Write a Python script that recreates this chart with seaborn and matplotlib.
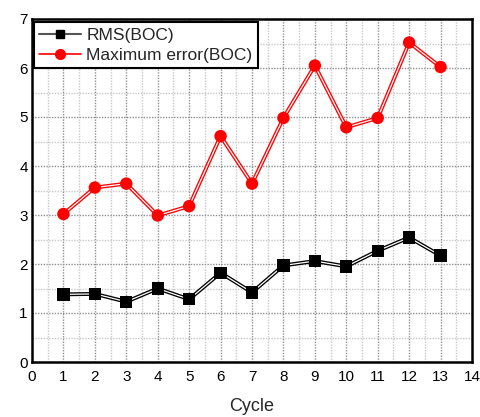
import matplotlib
matplotlib.use("Agg")
import matplotlib.pyplot as plt
import matplotlib.patheffects as pe
import seaborn as sns
import pandas as pd
import numpy as np

cycles = [1, 2, 3, 4, 5, 6, 7, 8, 9, 10, 11, 12, 13]
rms_boc = [1.38, 1.39, 1.23, 1.50, 1.28, 1.82, 1.42, 1.97, 2.06, 1.95, 2.27, 2.54, 2.17]
max_err_boc = [3.02, 3.56, 3.64, 2.99, 3.18, 4.61, 3.64, 4.98, 6.05, 4.79, 4.98, 6.52, 6.02]
x_ticks = list(range(0, 15))
y_ticks = list(range(0, 8))

sns.set_theme(style="white")
plt.rcParams['font.family'] = ['Liberation Sans', 'DejaVu Sans']

df = pd.DataFrame({"Cycle": cycles * 2,
                   "value": rms_boc + max_err_boc,
                   "series": ["RMS(BOC)"] * len(cycles) + ["Maximum error(BOC)"] * len(cycles)})
palette = {"RMS(BOC)": "black", "Maximum error(BOC)": "red"}

fig = plt.figure(figsize=(4.81, 4.17), dpi=100)
ax = fig.add_axes([32/481, 1 - 362/417, 440/481, 343/417])

# grid
for v in np.arange(0.5, 14, 1.0):
    ax.axvline(v, color="#c8c8c8", lw=1.0, ls=(0, (1, 1)), zorder=0)
for v in np.arange(0.5, 7, 1.0):
    ax.axhline(v, color="#c8c8c8", lw=1.0, ls=(0, (1, 1)), zorder=0)
for v in range(1, 14):
    ax.axvline(v, color="#909090", lw=1.0, ls=(0, (1, 1)), zorder=0)
for v in range(1, 7):
    ax.axhline(v, color="#909090", lw=1.0, ls=(0, (1, 1)), zorder=0)

# lines (doubled look)
n0 = len(ax.get_lines())
sns.lineplot(data=df, x="Cycle", y="value", hue="series", palette=palette,
             lw=2.6, ax=ax, legend=False)
for l in ax.get_lines()[n0:]:
    l.set_path_effects([pe.Stroke(linewidth=2.8, foreground=l.get_color()),
                        pe.Stroke(linewidth=0.9, foreground="white")])
# solid markers
sns.scatterplot(data=df, x="Cycle", y="value", hue="series", style="series",
                palette=palette, markers={"RMS(BOC)": "s", "Maximum error(BOC)": "o"},
                s=80, linewidth=0, ax=ax, legend=False, zorder=5)

ax.set_xlim(0, 14)
ax.set_ylim(0, 7)
ax.set_xticks(x_ticks)
ax.set_yticks(y_ticks)
ax.set_xticks(np.arange(0.5, 14, 1.0), minor=True)
ax.set_yticks(np.arange(0.5, 7, 1.0), minor=True)
ax.tick_params(which="major", direction="in", length=5, width=1.3, labelsize=11, pad=6, colors="black")
ax.tick_params(which="minor", direction="in", length=3, width=1.0)
ax.tick_params(axis="y", pad=3)
for s in ax.spines.values():
    s.set_visible(True)
    s.set_color("black")
    s.set_linewidth(1.8)
ax.set_xlabel("Cycle", fontsize=13, labelpad=10)
ax.set_ylabel("")

from matplotlib.lines import Line2D
handles = [Line2D([], [], color="#555555", lw=1.5, marker="s", markersize=6, markerfacecolor="black", markeredgecolor="black"),
           Line2D([], [], color="red", lw=1.2, marker="o", markersize=7, markerfacecolor="red", markeredgecolor="red")]
leg = ax.legend(handles, ["RMS(BOC)", "Maximum error(BOC)"], loc="upper left",
                fontsize=12.5, frameon=True, fancybox=False, borderpad=0.3,
                handlelength=2.4, labelspacing=0.3, bbox_to_anchor=(0.005, 0.99),
                borderaxespad=0.0, handletextpad=0.3)
leg.get_frame().set_edgecolor("black")
leg.get_frame().set_linewidth(1.5)
leg.get_frame().set_alpha(1)

fig.savefig("out.png", dpi=100)
